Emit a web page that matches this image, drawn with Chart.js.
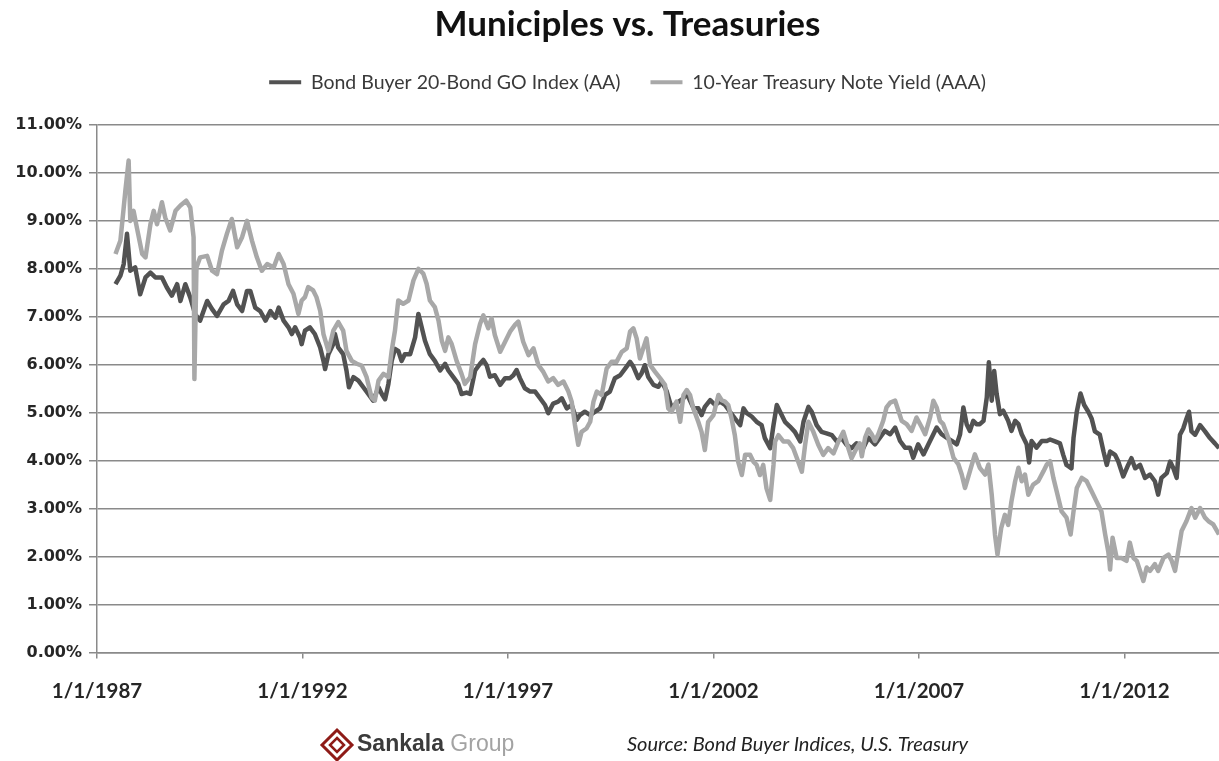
<!DOCTYPE html>
<html>
<head>
<meta charset="utf-8">
<title>Municiples vs. Treasuries</title>
<script src="https://cdn.jsdelivr.net/npm/chart.js@4.4.1/dist/chart.umd.min.js"></script>
<style>
    html, body { margin: 0; padding: 0; background: #fff; }
    #wrap { width: 1219px; height: 761px; position: relative; }
</style>
</head>
<body>
<div id="wrap"><canvas id="chart"></canvas></div>
<script>
/* ========== Data (decimal years, % yield) ========== */

const muniDates = [
    1987.45, 1987.57, 1987.65, 1987.73, 1987.81, 1987.93, 1988.05, 1988.18, 1988.30, 1988.42,
    1988.58, 1988.70, 1988.82, 1988.95, 1989.03, 1989.15, 1989.27, 1989.39, 1989.51, 1989.68,
    1989.80, 1989.92, 1990.08, 1990.20, 1990.31, 1990.41, 1990.53, 1990.65, 1990.73, 1990.85,
    1990.97, 1991.10, 1991.22, 1991.34, 1991.42, 1991.54, 1991.66, 1991.74, 1991.82, 1991.94,
    1991.98, 1992.06, 1992.18, 1992.30, 1992.43, 1992.51, 1992.55, 1992.63, 1992.75, 1992.79,
    1992.87, 1992.99, 1993.07, 1993.13, 1993.24, 1993.36, 1993.48, 1993.60, 1993.72, 1993.85,
    1993.93, 1994.01, 1994.09, 1994.17, 1994.25, 1994.33, 1994.41, 1994.49, 1994.62, 1994.74,
    1994.82, 1994.90, 1994.98, 1995.10, 1995.22, 1995.35, 1995.47, 1995.55, 1995.67, 1995.79,
    1995.87, 1995.99, 1996.08, 1996.20, 1996.32, 1996.40, 1996.48, 1996.56, 1996.68, 1996.81,
    1996.93, 1997.05, 1997.13, 1997.21, 1997.29, 1997.41, 1997.54, 1997.66, 1997.78, 1997.90,
    1997.98, 1998.10, 1998.22, 1998.31, 1998.43, 1998.55, 1998.67, 1998.75, 1998.87, 1999.00,
    1999.12, 1999.24, 1999.36, 1999.48, 1999.60, 1999.73, 1999.85, 1999.97, 2000.05, 2000.17,
    2000.25, 2000.33, 2000.41, 2000.54, 2000.66, 2000.74, 2000.86, 2000.98, 2001.10, 2001.27,
    2001.35, 2001.51, 2001.63, 2001.71, 2001.79, 2001.92, 2002.04, 2002.16, 2002.28, 2002.40,
    2002.52, 2002.65, 2002.73, 2002.81, 2002.93, 2003.05, 2003.17, 2003.25, 2003.38, 2003.46,
    2003.54, 2003.62, 2003.74, 2003.86, 2003.98, 2004.11, 2004.19, 2004.31, 2004.39, 2004.51,
    2004.63, 2004.75, 2004.88, 2005.00, 2005.12, 2005.24, 2005.36, 2005.48, 2005.56, 2005.61,
    2005.77, 2005.93, 2006.05, 2006.17, 2006.30, 2006.42, 2006.54, 2006.66, 2006.78, 2006.86,
    2006.98, 2007.11, 2007.23, 2007.35, 2007.43, 2007.55, 2007.67, 2007.80, 2007.92, 2008.00,
    2008.08, 2008.16, 2008.24, 2008.32, 2008.40, 2008.48, 2008.57, 2008.65, 2008.70, 2008.77,
    2008.83, 2008.89, 2008.97, 2009.05, 2009.17, 2009.25, 2009.34, 2009.42, 2009.50, 2009.62,
    2009.68, 2009.74, 2009.86, 2009.99, 2010.11, 2010.19, 2010.31, 2010.43, 2010.51, 2010.59,
    2010.71, 2010.76, 2010.84, 2010.93, 2011.02, 2011.12, 2011.20, 2011.28, 2011.40, 2011.49,
    2011.57, 2011.65, 2011.77, 2011.85, 2011.97, 2012.09, 2012.17, 2012.26, 2012.38, 2012.50,
    2012.62, 2012.74, 2012.82, 2012.90, 2013.03, 2013.11, 2013.19, 2013.27, 2013.35, 2013.43,
    2013.51, 2013.57, 2013.63, 2013.72, 2013.84, 2013.96, 2014.08, 2014.20, 2014.30,
];

const muniYields = [
    7.68, 7.86, 8.10, 8.73, 7.96, 8.03, 7.47, 7.82, 7.92, 7.82,
    7.82, 7.61, 7.44, 7.68, 7.33, 7.68, 7.40, 7.05, 6.92, 7.33,
    7.16, 7.02, 7.26, 7.33, 7.54, 7.26, 7.12, 7.54, 7.54, 7.19,
    7.12, 6.92, 7.12, 6.98, 7.19, 6.92, 6.78, 6.64, 6.78, 6.57,
    6.43, 6.71, 6.78, 6.64, 6.36, 6.08, 5.91, 6.22, 6.43, 6.64,
    6.36, 6.22, 5.88, 5.53, 5.74, 5.67, 5.53, 5.39, 5.25, 5.53,
    5.39, 5.28, 5.60, 6.08, 6.33, 6.29, 6.08, 6.22, 6.22, 6.57,
    7.06, 6.78, 6.50, 6.22, 6.08, 5.88, 6.02, 5.88, 5.74, 5.60,
    5.39, 5.42, 5.39, 5.88, 6.02, 6.10, 5.99, 5.75, 5.78, 5.58,
    5.72, 5.72, 5.78, 5.89, 5.72, 5.51, 5.44, 5.44, 5.30, 5.16,
    4.99, 5.19, 5.23, 5.30, 5.09, 5.16, 4.85, 4.95, 5.02, 4.95,
    5.02, 5.09, 5.37, 5.44, 5.72, 5.78, 5.92, 6.06, 5.96, 5.72,
    5.82, 5.99, 5.75, 5.58, 5.54, 5.65, 5.45, 5.10, 5.20, 5.30,
    5.40, 5.10, 5.09, 4.95, 5.12, 5.26, 5.16, 5.23, 5.16, 5.02,
    4.88, 4.74, 5.09, 4.99, 4.92, 4.81, 4.74, 4.47, 4.26, 4.74,
    5.16, 5.02, 4.81, 4.71, 4.60, 4.40, 4.81, 5.12, 5.02, 4.74,
    4.60, 4.57, 4.53, 4.40, 4.47, 4.33, 4.26, 4.36, 4.33, 4.20,
    4.48, 4.34, 4.48, 4.62, 4.55, 4.69, 4.41, 4.27, 4.27, 4.06,
    4.34, 4.13, 4.34, 4.55, 4.69, 4.55, 4.48, 4.41, 4.34, 4.55,
    5.11, 4.76, 4.62, 4.83, 4.76, 4.76, 4.83, 5.32, 6.05, 5.25,
    5.87, 5.39, 4.97, 5.04, 4.83, 4.62, 4.83, 4.76, 4.55, 4.34,
    3.96, 4.41, 4.27, 4.41, 4.41, 4.44, 4.40, 4.36, 4.12, 3.91,
    3.84, 4.47, 5.02, 5.40, 5.16, 5.02, 4.88, 4.61, 4.54, 4.19,
    3.91, 4.19, 4.12, 3.98, 3.67, 3.91, 4.05, 3.84, 3.91, 3.64,
    3.71, 3.57, 3.29, 3.64, 3.74, 3.98, 3.84, 3.64, 4.54, 4.67,
    4.88, 5.02, 4.61, 4.54, 4.74, 4.61, 4.47, 4.36, 4.26,
];

const tsyDates = [
    1987.45, 1987.57, 1987.65, 1987.69, 1987.77, 1987.81, 1987.89, 1987.97, 1988.10, 1988.18,
    1988.30, 1988.38, 1988.46, 1988.58, 1988.66, 1988.78, 1988.91, 1989.03, 1989.17, 1989.27,
    1989.35, 1989.37, 1989.42, 1989.51, 1989.68, 1989.80, 1989.92, 1990.04, 1990.16, 1990.28,
    1990.41, 1990.53, 1990.65, 1990.77, 1990.89, 1991.01, 1991.14, 1991.30, 1991.42, 1991.54,
    1991.66, 1991.78, 1991.90, 1991.98, 1992.06, 1992.14, 1992.26, 1992.34, 1992.43, 1992.51,
    1992.63, 1992.75, 1992.87, 1992.99, 1993.07, 1993.20, 1993.32, 1993.44, 1993.56, 1993.68,
    1993.76, 1993.85, 1993.97, 1994.09, 1994.17, 1994.25, 1994.33, 1994.45, 1994.58, 1994.70,
    1994.82, 1994.94, 1995.02, 1995.10, 1995.22, 1995.31, 1995.39, 1995.47, 1995.55, 1995.63,
    1995.75, 1995.87, 1995.95, 1996.08, 1996.20, 1996.32, 1996.40, 1996.52, 1996.60, 1996.68,
    1996.81, 1996.93, 1997.05, 1997.17, 1997.25, 1997.37, 1997.50, 1997.62, 1997.74, 1997.86,
    1997.98, 1998.10, 1998.22, 1998.35, 1998.47, 1998.55, 1998.63, 1998.71, 1998.79, 1998.91,
    1999.00, 1999.08, 1999.16, 1999.28, 1999.40, 1999.52, 1999.64, 1999.77, 1999.89, 1999.97,
    2000.05, 2000.13, 2000.21, 2000.29, 2000.37, 2000.46, 2000.58, 2000.70, 2000.82, 2000.90,
    2000.98, 2001.10, 2001.19, 2001.27, 2001.35, 2001.43, 2001.51, 2001.63, 2001.71, 2001.79,
    2001.87, 2002.00, 2002.12, 2002.20, 2002.28, 2002.36, 2002.44, 2002.52, 2002.60, 2002.69,
    2002.77, 2002.89, 2002.97, 2003.05, 2003.13, 2003.21, 2003.29, 2003.38, 2003.46, 2003.50,
    2003.58, 2003.70, 2003.82, 2003.94, 2004.06, 2004.15, 2004.23, 2004.31, 2004.43, 2004.55,
    2004.67, 2004.79, 2004.92, 2005.04, 2005.16, 2005.28, 2005.36, 2005.48, 2005.56, 2005.61,
    2005.69, 2005.77, 2005.85, 2005.93, 2006.01, 2006.13, 2006.21, 2006.30, 2006.42, 2006.50,
    2006.58, 2006.70, 2006.82, 2006.94, 2007.07, 2007.15, 2007.27, 2007.35, 2007.43, 2007.51,
    2007.59, 2007.71, 2007.84, 2007.96, 2008.04, 2008.12, 2008.24, 2008.36, 2008.48, 2008.61,
    2008.69, 2008.77, 2008.85, 2008.91, 2009.00, 2009.09, 2009.17, 2009.25, 2009.34, 2009.42,
    2009.50, 2009.58, 2009.66, 2009.78, 2009.90, 2010.03, 2010.11, 2010.19, 2010.27, 2010.35,
    2010.47, 2010.59, 2010.69, 2010.76, 2010.84, 2010.96, 2011.08, 2011.20, 2011.32, 2011.44,
    2011.53, 2011.61, 2011.65, 2011.71, 2011.81, 2011.93, 2012.05, 2012.13, 2012.22, 2012.30,
    2012.38, 2012.46, 2012.54, 2012.62, 2012.74, 2012.82, 2012.95, 2013.07, 2013.15, 2013.23,
    2013.31, 2013.39, 2013.51, 2013.63, 2013.72, 2013.84, 2013.96, 2014.04, 2014.16, 2014.30,
];

const tsyYields = [
    8.31, 8.59, 9.28, 9.63, 10.26, 9.00, 9.21, 8.86, 8.31, 8.24,
    8.93, 9.21, 8.93, 9.39, 9.07, 8.80, 9.21, 9.32, 9.42, 9.28,
    8.66, 5.70, 8.03, 8.24, 8.27, 7.96, 7.89, 8.38, 8.73, 9.04,
    8.45, 8.66, 9.00, 8.59, 8.24, 7.96, 8.10, 8.03, 8.31, 8.10,
    7.68, 7.48, 7.06, 7.34, 7.41, 7.62, 7.55, 7.41, 7.13, 6.64,
    6.29, 6.71, 6.89, 6.71, 6.29, 6.08, 6.02, 5.98, 5.74, 5.32,
    5.25, 5.67, 5.81, 5.74, 6.29, 6.71, 7.34, 7.27, 7.34, 7.76,
    8.00, 7.90, 7.69, 7.34, 7.20, 6.92, 6.50, 6.29, 6.57, 6.43,
    6.08, 5.81, 5.60, 5.74, 6.43, 6.85, 7.03, 6.76, 6.97, 6.62,
    6.27, 6.48, 6.69, 6.83, 6.90, 6.48, 6.20, 6.34, 5.99, 5.85,
    5.65, 5.72, 5.58, 5.65, 5.44, 5.23, 4.74, 4.33, 4.60, 4.67,
    4.81, 5.23, 5.44, 5.37, 5.92, 6.06, 6.06, 6.27, 6.34, 6.69,
    6.76, 6.55, 6.13, 6.34, 6.55, 5.99, 5.85, 5.72, 5.58, 5.09,
    5.02, 5.23, 4.81, 5.37, 5.47, 5.37, 5.09, 4.81, 4.60, 4.22,
    4.81, 4.95, 5.37, 5.26, 5.23, 5.16, 4.88, 4.53, 3.98, 3.70,
    4.12, 4.12, 3.98, 3.91, 3.70, 3.91, 3.42, 3.18, 3.91, 4.40,
    4.53, 4.40, 4.40, 4.26, 3.98, 3.77, 4.33, 4.81, 4.60, 4.33,
    4.12, 4.26, 4.15, 4.40, 4.60, 4.26, 4.05, 4.26, 4.36, 4.09,
    4.48, 4.65, 4.55, 4.41, 4.55, 4.83, 5.11, 5.21, 5.25, 5.04,
    4.83, 4.76, 4.62, 4.90, 4.69, 4.55, 4.90, 5.25, 5.11, 4.83,
    4.76, 4.48, 4.06, 3.92, 3.71, 3.43, 3.78, 4.13, 3.85, 3.71,
    3.92, 3.29, 2.45, 2.04, 2.59, 2.87, 2.66, 3.15, 3.57, 3.85,
    3.57, 3.71, 3.29, 3.50, 3.57, 3.78, 3.92, 3.99, 3.64, 3.36,
    2.94, 2.81, 2.46, 2.94, 3.43, 3.64, 3.57, 3.36, 3.15, 2.94,
    2.46, 2.08, 1.73, 2.39, 1.97, 1.97, 1.91, 2.29, 1.97, 1.91,
    1.70, 1.49, 1.77, 1.70, 1.84, 1.70, 1.97, 2.04, 1.91, 1.70,
    2.11, 2.53, 2.74, 3.01, 2.81, 3.01, 2.81, 2.74, 2.67, 2.46,
];

const seriesNames = ['Bond Buyer 20-Bond GO Index (AA)', '10-Year Treasury Note Yield (AAA)'];
const yearTicks = [1987, 1992, 1997, 2002, 2007, 2012];

/* ========== Chart ========== */

const palette = {
    muni: '#525252',
    tsy: '#a8a8a8',
    grid: '#8a8a8a',
    text: '#262626',
    legend: '#3a3a3a',
};

// title and legend are centred on a wider frame than the plot (the source was cropped on the right)
const HEADER_LEFT = 36;
const TITLE_HEIGHT = 42.5;
const LEGEND_HEIGHT = 125 - TITLE_HEIGHT;

function toPoints(xs, ys) {
    return xs.map((x, i) => ({ x, y: ys[i] }));
}

const headerLayout = {
    id: 'headerLayout',
    afterInit(chart) {
        const legend = chart.legend;
        const fit = legend.fit;
        legend.fit = function () {
            fit.call(this);
            this.height = LEGEND_HEIGHT;
        };
    },
    afterLayout(chart) {
        chart.titleBlock.left = HEADER_LEFT;
        chart.legend.left = HEADER_LEFT;
    },
};

const footerPlugin = {
    id: 'footer',
    afterDraw(chart) {
        const ctx = chart.ctx;
        ctx.save();
        // Sankala logo diamond
        const cx = 337, cy = 745;
        ctx.strokeStyle = '#8e1b17';
        ctx.lineWidth = 3;
        ctx.beginPath();
        ctx.moveTo(cx, cy - 15); ctx.lineTo(cx + 15, cy); ctx.lineTo(cx, cy + 15); ctx.lineTo(cx - 15, cy);
        ctx.closePath();
        ctx.stroke();
        ctx.lineWidth = 2.5;
        ctx.beginPath();
        ctx.moveTo(cx, cy - 7); ctx.lineTo(cx + 7, cy); ctx.lineTo(cx, cy + 7); ctx.lineTo(cx - 7, cy);
        ctx.closePath();
        ctx.stroke();

        ctx.textBaseline = 'middle';
        ctx.textAlign = 'left';
        ctx.font = 'bold 23px "Liberation Sans", Arial, sans-serif';
        ctx.fillStyle = '#3b3b3b';
        ctx.fillText('Sankala', 357, cy);
        const w = ctx.measureText('Sankala ').width;
        ctx.font = '23px "Liberation Sans", Arial, sans-serif';
        ctx.fillStyle = '#a3a3a3';
        ctx.fillText('Group', 357 + w, cy);

        ctx.font = 'italic 20px Lato, sans-serif';
        ctx.fillStyle = '#222';
        ctx.fillText('Source: Bond Buyer Indices, U.S. Treasury', 627, cy);
        ctx.restore();
    },
};

const ctx = document.getElementById('chart').getContext('2d');
const chart = new Chart(ctx, {
    type: 'line',
    data: {
        datasets: [
            {
                label: seriesNames[0],
                data: toPoints(muniDates, muniYields),
                borderColor: palette.muni,
                backgroundColor: palette.muni,
                borderWidth: 4.5,
                pointRadius: 0,
                tension: 0,
                borderJoinStyle: 'round',
                order: 1,
            },
            {
                label: seriesNames[1],
                data: toPoints(tsyDates, tsyYields),
                borderColor: palette.tsy,
                backgroundColor: palette.tsy,
                borderWidth: 4.5,
                pointRadius: 0,
                tension: 0,
                borderJoinStyle: 'round',
                order: 0,
            },
        ],
    },
    options: {
        responsive: true,
        maintainAspectRatio: false,
        animation: false,
        layout: { padding: { left: 0, right: 0, top: 0, bottom: 36 } },
        plugins: {
            title: {
                display: true,
                text: 'Municiples vs. Treasuries',
                color: '#111',
                font: { family: 'Lato, sans-serif', size: 35, weight: 'bold', lineHeight: 1 },
                padding: { top: 7.5, bottom: 0 },
            },
            legend: {
                display: true,
                labels: {
                    color: palette.legend,
                    font: { family: 'Lato, sans-serif', size: 19.5 },
                    boxWidth: 32,
                    boxHeight: 4,
                    padding: 30,
                    generateLabels(chart) {
                        const items = Chart.defaults.plugins.legend.labels.generateLabels(chart);
                        items.forEach(it => { it.lineWidth = 0; it.fillStyle = it.strokeStyle; });
                        return items.sort((a, b) => a.datasetIndex - b.datasetIndex);
                    },
                },
            },
            tooltip: { enabled: false },
        },
        scales: {
            x: {
                type: 'linear',
                min: 1987,
                max: 2014.3,
                afterBuildTicks: scale => { scale.ticks = yearTicks.map(v => ({ value: v })); },
                ticks: {
                    color: palette.text,
                    font: { family: 'Lato, sans-serif', size: 20.5, weight: 'bold' },
                    padding: 21,
                    maxRotation: 0,
                    autoSkip: false,
                    callback: v => '1/1/' + v,
                },
                grid: { drawOnChartArea: false, drawTicks: true, tickLength: 6, color: palette.grid, lineWidth: 1.5 },
                border: { color: palette.grid, width: 1.5 },
            },
            y: {
                min: 0,
                max: 11,
                afterFit: scale => { scale.width = 97; },
                ticks: {
                    stepSize: 1,
                    color: palette.text,
                    font: { family: '"DejaVu Sans", sans-serif', size: 16, weight: 'bold' },
                    padding: 7,
                    callback: v => v.toFixed(2) + '%',
                },
                grid: { color: palette.grid, lineWidth: 1.5, tickLength: 8 },
                border: { color: palette.grid, width: 1.5 },
            },
        },
    },
    plugins: [headerLayout, footerPlugin],
});
</script>
</body>
</html>
